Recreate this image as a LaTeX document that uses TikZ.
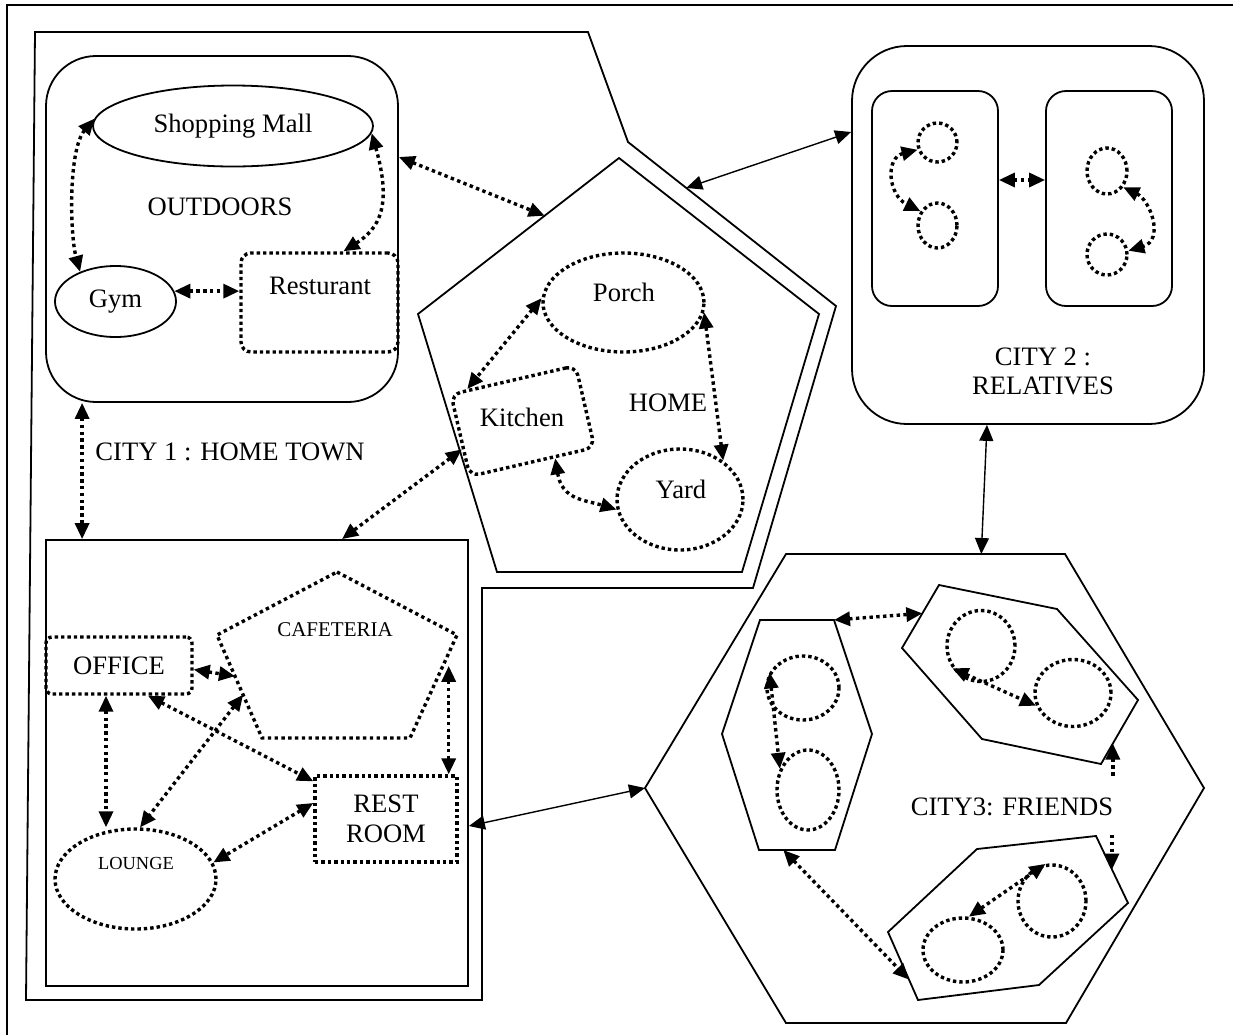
\documentclass[tikz,border=0pt]{standalone}
\usepackage{fontspec}
\setmainfont{Liberation Serif}
\usetikzlibrary{arrows.meta,calc,shapes.geometric}

\begin{document}
\begin{tikzpicture}[x=0.5pt,y=-0.5pt,
  font=\fontsize{13.3}{15}\selectfont,
  >={Triangle[length=8pt,width=7pt]},
  frame/.style={line width=1pt},
  solidshape/.style={draw, line width=0.9pt, inner sep=0pt},
  dotshape/.style={draw, line width=1.7pt, dash pattern=on 1.7pt off 1.5pt, inner sep=0pt},
  dotline/.style={line width=1.7pt, dash pattern=on 1.7pt off 1.7pt},
  outline/.style={line width=0.9pt},
  dlink/.style={<->, dotline},
  slink/.style={<->, line width=0.7pt},
  smallfont/.style={font=\fontsize{10.5}{12}\selectfont},
  tinyfont/.style={font=\fontsize{9.2}{11}\selectfont}
]
\useasboundingbox (0,0) rectangle (1233,1035);

% page frame
\draw[frame] (7,1035) -- (7,5) -- (1233,5);

% ---------------- CITY 1 : HOME TOWN ----------------
\coordinate (a1) at (35,32);
\coordinate (a2) at (588,32);
\coordinate (a3) at (628,142);
\coordinate (a4) at (836,306);
\coordinate (a5) at (753,588);
\coordinate (a6) at (482,588);
\coordinate (a7) at (482,1000);
\coordinate (a8) at (26,1000);
\draw[outline] (a1) -- (a2) -- (a3) -- (a4) -- (a5) -- (a6) -- (a7) -- (a8) -- cycle;
\node (city1lbl) at (230,452) {CITY 1 : HOME TOWN};

% outdoors
\node[solidshape, rounded corners=25pt, minimum width=176pt, minimum height=173pt] (outdoors) at (222,229) {};
\node (outdoorslbl) at (220,207) {OUTDOORS};
\node[solidshape, ellipse, minimum width=140pt, minimum height=40.5pt] (mall) at (233,126) {Shopping Mall};
\node[solidshape, ellipse, minimum width=60.5pt, minimum height=35.5pt] (gym) at (115.5,301.5) {Gym};
\node[dotshape, rounded corners=5pt, minimum width=78.5pt, minimum height=49.5pt] (restaurant) at (319.5,302.5) {};
\node (restaurantlbl) at (320,286) {Resturant};

\draw[dlink] (mall.177) .. controls (68,150) and (70,235) .. (gym.140);
\draw[dlink] (mall.-3) .. controls (392,205) and (380,228) .. ([xshift=12pt]restaurant.north);
\draw[dlink] (gym.10) -- (gym.10 -| restaurant.west);

% home
\coordinate (p1) at (619,158);
\coordinate (p2) at (819,314);
\coordinate (p3) at (742,572);
\coordinate (p4) at (497,572);
\coordinate (p5) at (418,314);
\draw[outline] (p1) -- (p2) -- (p3) -- (p4) -- (p5) -- cycle;
\node (homelbl) at (668,403) {HOME};
\node[dotshape, ellipse, minimum width=80.5pt, minimum height=49.5pt] (porch) at (623.5,302.5) {};
\node (porchlbl) at (624,292) {Porch};
\node[dotshape, rounded corners=5pt, rotate=13, minimum width=64pt, minimum height=42pt] (kitchen) at (522.75,421) {};
\node (kitchenlbl) at (522,417) {Kitchen};
\node[dotshape, ellipse, minimum width=63pt, minimum height=50.5pt] (yard) at (680,499.5) {};
\node (yardlbl) at (681,489) {Yard};

\draw[dlink] (porch.177) -- (kitchen.137);
\draw[dlink] (porch.-7) -- (yard.42);
\draw[dlink] (kitchen.-62) .. controls (562,500) and (585,500) .. (yard.189);

% work
\node[solidshape, minimum width=211pt, minimum height=223pt] (work) at (257,763) {};
\node[dotshape, rounded corners=3pt, minimum width=73pt, minimum height=28.5pt] (office) at (119,665.5) {OFFICE};
\coordinate (c1) at (337,572);
\coordinate (c2) at (457,635);
\coordinate (c3) at (410,738);
\coordinate (c4) at (262,738);
\coordinate (c5) at (217,635);
\draw[dotline] (c1) -- (c2) -- (c3) -- (c4) -- (c5) -- cycle;
\node[smallfont] (cafeterialbl) at (335,630) {CAFETERIA};
\node[dotshape, minimum width=71pt, minimum height=43pt, align=center] (restroom) at (386,819) {REST\\ROOM};
\node[dotshape, ellipse, minimum width=80.5pt, minimum height=50pt] (lounge) at (135.5,879) {};
\node[tinyfont] (loungelbl) at (136,863) {LOUNGE};

\coordinate (c54a) at ($(c5)!0.4!(c4)$);
\coordinate (c54b) at ($(c5)!0.58!(c4)$);
\coordinate (c23) at ($(c2)!0.3!(c3)$);
\coordinate (rrtop) at ([xshift=-5pt]restroom.north east);
\coordinate (offs1) at ([xshift=-6.5pt]office.south);
\draw[dlink] ([yshift=-2pt]office.east) -- (c54a);
\draw[dlink] (c54b) -- (lounge.85);
\draw[dlink] (c23 -| rrtop) -- (rrtop);
\draw[dlink] (offs1) -- (offs1 |- lounge.north);
\draw[dlink] ([xshift=14.5pt]office.south) -- ([yshift=-3.5pt]restroom.north west);
\draw[dlink] ([yshift=8pt]restroom.west) -- (lounge.12);

% links inside city 1
\coordinate (odl) at ([xshift=18.5pt]outdoors.south west);
\coordinate (p15) at ($(p1)!0.37!(p5)$);
\draw[dlink] (odl) -- (odl |- work.north);
\draw[dlink] ([yshift=36pt]outdoors.east) -- (p15);
\draw[dlink] (kitchen.192) -- ([xshift=42.5pt]work.north);

% ---------------- CITY 2 : RELATIVES ----------------
\node[solidshape, rounded corners=27.5pt, minimum width=176pt, minimum height=189pt] (city2) at (1028,235) {};
\node[align=center, font=\fontsize{13.3}{14.5}\selectfont] (city2lbl) at (1043,371) {CITY 2 :\\RELATIVES};
\node[solidshape, rounded corners=10pt, minimum width=63pt, minimum height=107.5pt] (fam1) at (935,198.5) {};
\node[solidshape, rounded corners=10pt, minimum width=63pt, minimum height=107.5pt] (fam2) at (1109,198.5) {};
\node[dotshape, ellipse, minimum width=19.5pt, minimum height=19.5pt] (ra) at (937.5,142.5) {};
\node[dotshape, ellipse, minimum width=19.5pt, minimum height=22.5pt] (rb) at (937.5,225.5) {};
\node[dotshape, ellipse, minimum width=20pt, minimum height=23pt] (rc) at (1107,171) {};
\node[dotshape, ellipse, minimum width=20pt, minimum height=20.5pt] (rd) at (1107,254.5) {};
\draw[dlink] (ra.200) .. controls (885,158) and (888,195) .. (rb.140);
\draw[dlink] (rc.-45) .. controls (1150,200) and (1165,240) .. (rd.10);
\draw[dlink] ([yshift=9.25pt]fam1.east) -- ([yshift=9.25pt]fam2.west);

% ---------------- CITY3: FRIENDS ----------------
\coordinate (x1) at (786,554);
\coordinate (x2) at (1065,554);
\coordinate (x3) at (1204,788);
\coordinate (x4) at (1066,1023);
\coordinate (x5) at (786,1023);
\coordinate (x6) at (645,788);
\draw[outline] (x1) -- (x2) -- (x3) -- (x4) -- (x5) -- (x6) -- cycle;
\node (city3lbl) at (1012,807) {CITY3: FRIENDS};

\coordinate (s1) at (760,620);
\coordinate (s2) at (834,620);
\coordinate (s3) at (872,734);
\coordinate (s4) at (835,850);
\coordinate (s5) at (759,850);
\coordinate (s6) at (722,734);
\draw[outline] (s1) -- (s2) -- (s3) -- (s4) -- (s5) -- (s6) -- cycle;
\coordinate (t1) at (939,585);
\coordinate (t2) at (1057,609);
\coordinate (t3) at (1138,700);
\coordinate (t4) at (1101,764);
\coordinate (t5) at (982,739);
\coordinate (t6) at (902,648);
\draw[outline] (t1) -- (t2) -- (t3) -- (t4) -- (t5) -- (t6) -- cycle;
\coordinate (u1) at (977,849);
\coordinate (u2) at (1096,836);
\coordinate (u3) at (1128,903);
\coordinate (u4) at (1039,985);
\coordinate (u5) at (918,1000);
\coordinate (u6) at (888,932);
\draw[outline] (u1) -- (u2) -- (u3) -- (u4) -- (u5) -- (u6) -- cycle;

\node[dotshape, ellipse, minimum width=36pt, minimum height=32pt] (fe) at (803,688) {};
\node[dotshape, ellipse, minimum width=31pt, minimum height=40pt] (ff) at (808,790) {};
\node[dotshape, ellipse, minimum width=34pt, minimum height=35.5pt] (fg) at (981,646) {};
\node[dotshape, ellipse, minimum width=38pt, minimum height=33.5pt] (fh) at (1073,693) {};
\node[dotshape, ellipse, minimum width=40pt, minimum height=32pt] (fi) at (963,950) {};
\node[dotshape, ellipse, minimum width=34pt, minimum height=36pt] (fj) at (1052,901) {};
\draw[dlink] (fe.155) -- (ff.143);
\draw[dlink] (fg.218) -- (fh.199);
\draw[dlink] (fi.80) -- (fj.100);

\coordinate (t61) at ($(t6)!0.55!(t1)$);
\coordinate (s54) at ($(s5)!0.32!(s4)$);
\coordinate (u65) at ($(u6)!0.7!(u5)$);
\coordinate (t34) at ($(t3)!0.68!(t4)$);
\coordinate (u23) at ($(u2)!0.5!(u3)$);
\coordinate (gapA) at (1113,778);
\coordinate (gapB) at (1113,835);
\draw[dlink] (s2) -- (t61);
\draw[dlink] (s54) -- (u65);
\draw[dotline, <-] (t34) -- (t34 |- gapA);
\draw[dotline, ->] (u23 |- gapB) -- (u23);

% ---------------- links between cities ----------------
\coordinate (a34) at ($(a3)!0.28!(a4)$);
\coordinate (x12) at ($(x1)!0.7!(x2)$);
\draw[slink] (a34) -- ([yshift=51.5pt]city2.west);
\draw[slink] ([xshift=-20.5pt]city2.south) -- (x12);
\draw[slink] ([yshift=-31.5pt]work.east) -- (x6);

\end{tikzpicture}
\end{document}
